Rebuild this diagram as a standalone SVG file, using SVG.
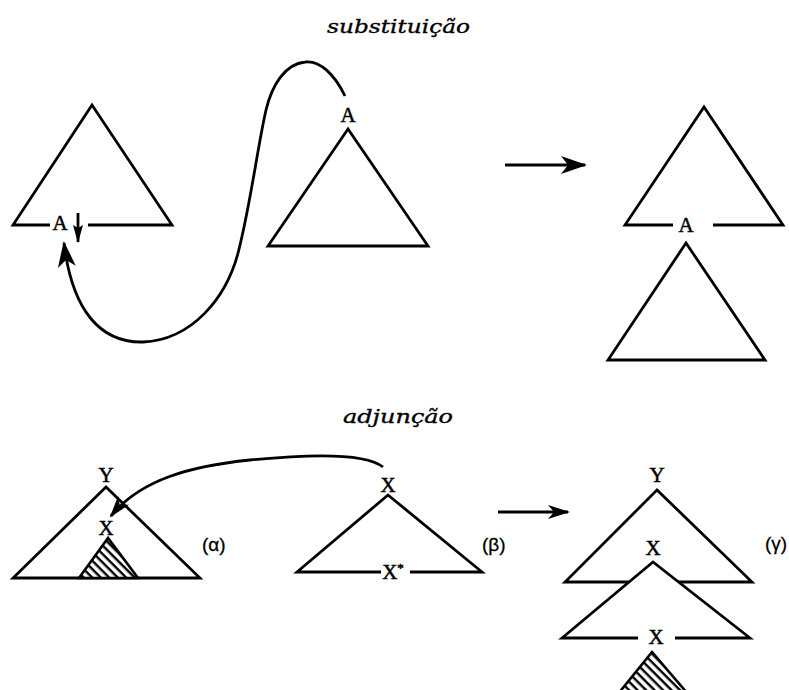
<svg xmlns="http://www.w3.org/2000/svg" width="789" height="690" viewBox="0 0 789 690">
<style>
.ln{fill:none;stroke:#000;stroke-width:2.8;stroke-linejoin:miter;stroke-linecap:butt}
.hat{fill:url(#hatch);stroke:#000;stroke-width:2.6}
.ttl{font-family:"DejaVu Serif","Liberation Serif",serif;font-style:italic;font-size:19px;fill:#000;stroke:#000;stroke-width:0.35}
.lbl{font-family:"Liberation Serif","DejaVu Serif",serif;font-size:21px;fill:#000;text-anchor:middle;stroke:#000;stroke-width:0.5}
.gr{font-family:"Liberation Sans","DejaVu Sans",sans-serif;font-size:19px;fill:#000;stroke:#000;stroke-width:0.3}
</style>
<defs>
<pattern id="hatch" patternUnits="userSpaceOnUse" width="6" height="6" patternTransform="rotate(45)">
<rect x="0" y="0" width="6" height="6" fill="#fff"/>
<rect x="0" y="0" width="6" height="2.4" fill="#000"/>
</pattern>
<marker id="big" markerUnits="userSpaceOnUse" viewBox="0 0 26 18" markerWidth="26" markerHeight="18" refX="24" refY="9" orient="auto"><path d="M0,0 L26,9 L0,18 L7,9 Z" fill="#000"/></marker>
<marker id="mid" markerUnits="userSpaceOnUse" viewBox="0 0 22 14" markerWidth="22" markerHeight="14" refX="20" refY="7" orient="auto"><path d="M0,0 L22,7 L0,14 L6,7 Z" fill="#000"/></marker>
<marker id="small" markerUnits="userSpaceOnUse" viewBox="0 0 18 10" markerWidth="18" markerHeight="10" refX="17" refY="5" orient="auto"><path d="M0,0 L18,5 L0,10 L3,5 Z" fill="#000"/></marker>
</defs>
<rect width="789" height="690" fill="#fff"/>

<text class="ttl" x="327" y="33" textLength="143" lengthAdjust="spacingAndGlyphs">substituição</text>
<text class="ttl" x="343" y="423" textLength="110" lengthAdjust="spacingAndGlyphs">adjunção</text>

<g id="subst-initial">
<path class="ln" d="M50,225 L13,225 L92,105 L172,225 L88,225"/>
<text class="lbl" x="60" y="230">A</text>
</g>
<g id="subst-aux">
<polygon class="ln" points="348,129 268,246 428,246"/>
<text class="lbl" x="348" y="122">A</text>
</g>
<g id="subst-result">
<path class="ln" d="M673,225 L625,225 L704,107 L783,225 L713,225"/>
<text class="lbl" x="686" y="232">A</text>
<polygon class="ln" points="686,243 608,360 765,360"/>
</g>

<g id="adj-alpha">
<polygon class="ln" points="106,487 13,578 200,578"/>
<polygon class="hat" points="108,538 79,578 138,578"/>
<text class="lbl" x="106" y="482">Y</text>
<text class="lbl" x="106" y="535">X</text>
<text class="gr" x="202" y="551">(α)</text>
</g>
<g id="adj-beta">
<path class="ln" d="M381,572 L297,572 L388,495 L482,572 L410,572"/>
<text class="lbl" x="388" y="492">X</text>
<text class="lbl" x="393" y="579">X<tspan font-size="13" dy="-7">*</tspan></text>
<text class="gr" x="482" y="551">(β)</text>
</g>
<g id="adj-gamma">
<polygon class="ln" points="657,490 565,582 752,582"/>
<polygon points="653,562 562,638 750,638" fill="#fff"/>
<path class="ln" d="M638,638 L562,638 L653,562 L750,638 L675,638"/>
<polygon class="hat" points="652,652 618,694 688,694"/>
<text class="lbl" x="657" y="482">Y</text>
<text class="lbl" x="653" y="555">X</text>
<text class="lbl" x="656" y="644">X</text>
<text class="gr" x="765" y="550">(γ)</text>
</g>

<g id="connectors">
<path class="ln" d="M78,213 L78,242" marker-end="url(#small)"/>
<path class="ln" d="M345,96 C335,75 320,60 305,62 C285,64 272,85 266,110 C258,145 251,200 240,245 C228,300 190,340 143,342 C100,343 72,310 64,243" marker-end="url(#big)"/>
<path class="ln" d="M505,165 L585,165" marker-end="url(#big)"/>
<path class="ln" d="M383,467 C365,452 300,455 250,460 C190,466 140,480 111,516" marker-end="url(#mid)"/>
<path class="ln" d="M498,512 L568,512" marker-end="url(#mid)"/>
</g>
</svg>
